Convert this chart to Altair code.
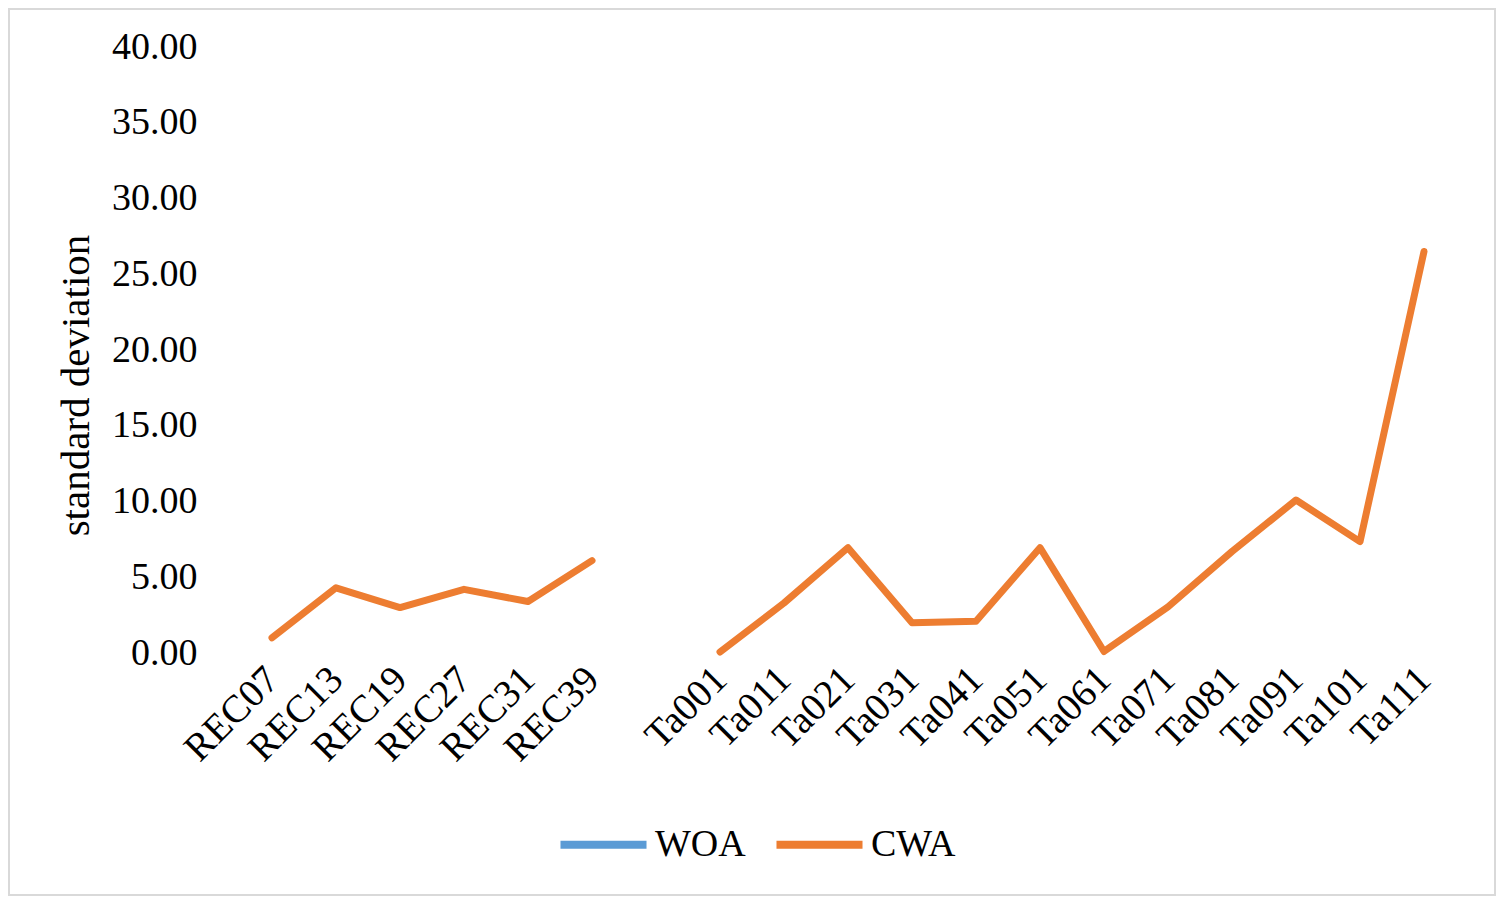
import altair as alt
import pandas as pd

categories = ["REC07", "REC13", "REC19", "REC27", "REC31", "REC39", " ",
              "Ta001", "Ta011", "Ta021", "Ta031", "Ta041", "Ta051",
              "Ta061", "Ta071", "Ta081", "Ta091", "Ta101", "Ta111"]
groups = ["REC"] * 6 + ["gap"] + ["Ta"] * 12
cwa = [1.00, 4.30, 3.00, 4.20, 3.40, 6.10, None,
       0.07, 3.30, 6.95, 2.00, 2.10, 6.95,
       0.10, 3.05, 6.70, 10.10, 7.35, 26.50]
woa = [None] * len(categories)
series_names = ["WOA", "CWA"]
series_colors = ["#5B9BD5", "#ED7D31"]
y_ticks = [0, 5, 10, 15, 20, 25, 30, 35, 40]

rows = []
for name, vals in zip(series_names, [woa, cwa]):
    for c, g, v in zip(categories, groups, vals):
        rows.append({"category": c, "group": g, "series": name, "value": v})
df = pd.DataFrame(rows)

FONT = "Liberation Serif"
W, H = 1216, 606
PL, PT, PR, PB = 232, 39, 40, 243

x_enc = alt.X("category:N", sort=categories,
              scale=alt.Scale(type="point", domain=categories, padding=0.5),
              axis=alt.Axis(title=None, labelAngle=-45, labelAlign="right",
                            labelBaseline="middle", labelPadding=20,
                            domain=False, ticks=False, grid=False,
                            labelFont=FONT, labelFontSize=39, labelColor="black"))
y_enc = alt.Y("value:Q",
              scale=alt.Scale(domain=[0, 40], nice=False, zero=True),
              axis=alt.Axis(title="standard deviation", values=y_ticks, format=".2f",
                            domain=False, ticks=False, grid=False,
                            labelPadding=43, labelFont=FONT, labelFontSize=38,
                            labelColor="black", titleFont=FONT, titleFontSize=41,
                            titleFontWeight="normal", titleColor="black",
                            titlePadding=14, titleY=338))
color_enc = alt.Color("series:N",
                      scale=alt.Scale(domain=series_names, range=series_colors),
                      legend=alt.Legend(title=None, orient="none", direction="horizontal",
                                        legendX=316, legendY=750,
                                        symbolType="stroke", symbolStrokeWidth=8,
                                        symbolSize=7400,
                                        labelFont=FONT, labelFontSize=38,
                                        labelColor="black", labelOffset=4,
                                        columnPadding=14))

lines = alt.Chart(df).mark_line(strokeWidth=7, strokeCap="round",
                                strokeJoin="round").encode(
    x=x_enc, y=y_enc, color=color_enc, detail="group:N"
)

border = alt.Chart(alt.Data(values=[{}])).mark_rect(
    fill="transparent", stroke="#d9d9d9", strokeWidth=2
).encode(
    x=alt.value(-PL + 1), x2=alt.value(W + PR - 1),
    y=alt.value(-PT + 1), y2=alt.value(H + PB - 1)
)

chart = alt.layer(lines, border).properties(
    width=W, height=H,
    background="white",
    autosize=alt.AutoSizeParams(type="none"),
    padding={"left": PL, "top": PT, "right": PR, "bottom": PB},
).configure_view(stroke="transparent", strokeWidth=0)

chart.save("out.html", embed_options={"renderer": "svg", "actions": False})
